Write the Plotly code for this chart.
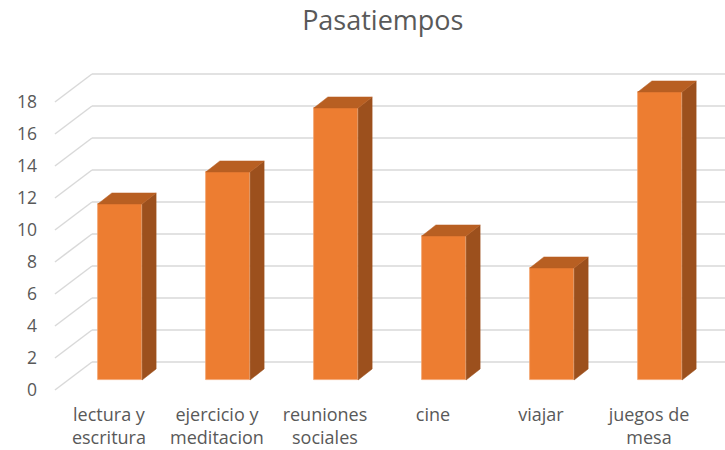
import plotly.graph_objects as go

categories = ["lectura y<br>escritura", "ejercicio y<br>meditacion", "reuniones<br>sociales",
              "cine", "viajar", "juegos de<br>mesa"]
values = [11, 13, 17, 9, 7, 18]
y_ticks = [0, 2, 4, 6, 8, 10, 12, 14, 16, 18]

FRONT = "#ED7D31"
SIDE = "#9C501D"
TOP = "#B85F22"
GRID = "#D9D9D9"
TXT = "#595959"
FONT = "Open Sans"

# geometry (data units)
bw = 0.41          # bar width
ddx, ddy = 0.13, 0.69   # bar depth offset
x_lo, x_hi = -0.694, 5.602
y_lo, y_hi = -1.25, 20.0
front_x, front_dy = -0.602, -0.625
back_x, back_dy = -0.259, 1.125
label_dx = 0.102   # category labels sit on the front edge

idx = list(range(len(categories)))

fig = go.Figure()

shapes = []
for v in y_ticks:
    shapes.append(dict(type="line", xref="x", yref="y", layer="below",
                       x0=front_x, y0=v + front_dy, x1=back_x, y1=v + back_dy,
                       line=dict(color=GRID, width=1.5)))
    shapes.append(dict(type="line", xref="x", yref="y", layer="below",
                       x0=back_x, y0=v + back_dy, x1=x_hi, y1=v + back_dy,
                       line=dict(color=GRID, width=1.5)))

fig.add_trace(go.Bar(x=idx, y=values, width=bw, marker=dict(color=FRONT, line=dict(color="#F2A470", width=0.8)),
                     showlegend=False, hoverinfo="skip"))

for i, v in zip(idx, values):
    r = i + bw / 2
    l = i - bw / 2
    fig.add_trace(go.Scatter(x=[r, r + ddx, r + ddx, r, r], y=[0, ddy, v + ddy, v, 0],
                             fill="toself", fillcolor=SIDE, mode="lines",
                             line=dict(color=SIDE, width=0.5), showlegend=False, hoverinfo="skip"))
    fig.add_trace(go.Scatter(x=[l, r, r + ddx, l + ddx, l], y=[v, v, v + ddy, v + ddy, v],
                             fill="toself", fillcolor=TOP, mode="lines",
                             line=dict(color=TOP, width=0.5), showlegend=False, hoverinfo="skip"))

# invisible traces for the secondary axes (tick labels on the front edge)
fig.add_trace(go.Scatter(x=[0], y=[0], xaxis="x2", yaxis="y2", mode="markers", marker=dict(opacity=0),
                         showlegend=False, hoverinfo="skip"))

fig.update_layout(
    width=725, height=450,
    margin=dict(l=45, r=0, t=60, b=50),
    paper_bgcolor="white", plot_bgcolor="white",
    title=dict(text="Pasatiempos", x=0.528, xanchor="center", y=0.955, yanchor="middle",
               font=dict(family=FONT, size=27, color=TXT)),
    shapes=shapes,
    xaxis=dict(range=[x_lo, x_hi], showgrid=False, automargin=False, showticklabels=False,
               zeroline=False, showline=False, ticks=""),
    xaxis2=dict(range=[x_lo + label_dx, x_hi + label_dx], overlaying="x", side="bottom",
                tickvals=idx, ticktext=categories, showgrid=False, automargin=False,
                zeroline=False, showline=False, ticks="", ticklabelstandoff=2,
                tickfont=dict(family=FONT, size=18, color=TXT)),
    yaxis=dict(range=[y_lo, y_hi], showgrid=False, zeroline=False, showticklabels=False, showline=False,
               automargin=False),
    yaxis2=dict(range=[y_lo - front_dy, y_hi - front_dy], overlaying="y", side="left", automargin=False,
                tickvals=y_ticks, showgrid=False, zeroline=False, showline=False, ticks="",
                ticklabelstandoff=7,
                tickfont=dict(family=FONT, size=17.5, color=TXT)),
    bargap=0,
)

fig.write_html("out.html", config={"displayModeBar": False},
               post_script="document.body.style.margin='0';")
